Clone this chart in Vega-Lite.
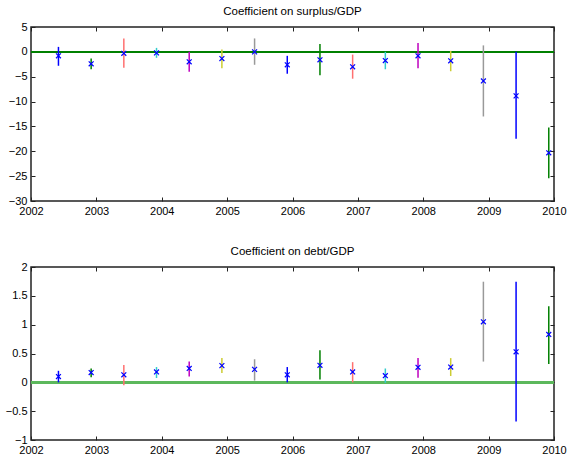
{
  "$schema": "https://vega.github.io/schema/vega-lite/v6.json",
  "autosize": {"type": "pad"},
  "padding": {"left": 4, "top": 4, "right": 1, "bottom": 0},
  "background": "white",
  "datasets": {
    "surplus": [
      {"t": 2002.42, "est": -0.8, "lo": -2.8, "hi": 1.0, "g": 1},
      {"t": 2002.92, "est": -2.4, "lo": -3.5, "hi": -1.35, "g": 2},
      {"t": 2003.42, "est": -0.3, "lo": -3.2, "hi": 2.7, "g": 3},
      {"t": 2003.92, "est": -0.2, "lo": -1.2, "hi": 0.8, "g": 4},
      {"t": 2004.42, "est": -2.0, "lo": -4.0, "hi": 0.0, "g": 5},
      {"t": 2004.92, "est": -1.35, "lo": -3.3, "hi": 0.45, "g": 6},
      {"t": 2005.42, "est": 0.0, "lo": -2.6, "hi": 2.7, "g": 7},
      {"t": 2005.92, "est": -2.6, "lo": -4.4, "hi": -0.8, "g": 1},
      {"t": 2006.42, "est": -1.6, "lo": -4.7, "hi": 1.6, "g": 2},
      {"t": 2006.92, "est": -3.0, "lo": -5.4, "hi": -0.55, "g": 3},
      {"t": 2007.42, "est": -1.75, "lo": -3.5, "hi": 0.0, "g": 4},
      {"t": 2007.92, "est": -0.8, "lo": -3.3, "hi": 1.8, "g": 5},
      {"t": 2008.42, "est": -1.8, "lo": -3.9, "hi": 0.2, "g": 6},
      {"t": 2008.92, "est": -5.85, "lo": -13.0, "hi": 1.3, "g": 7},
      {"t": 2009.42, "est": -8.85, "lo": -17.5, "hi": 0.0, "g": 1},
      {"t": 2009.92, "est": -20.3, "lo": -25.4, "hi": -15.2, "g": 2}
    ],
    "debt": [
      {"t": 2002.42, "est": 0.10, "lo": 0.0, "hi": 0.2, "g": 1},
      {"t": 2002.92, "est": 0.17, "lo": 0.09, "hi": 0.24, "g": 2},
      {"t": 2003.42, "est": 0.13, "lo": -0.05, "hi": 0.30, "g": 3},
      {"t": 2003.92, "est": 0.18, "lo": 0.075, "hi": 0.265, "g": 4},
      {"t": 2004.42, "est": 0.24, "lo": 0.10, "hi": 0.36, "g": 5},
      {"t": 2004.92, "est": 0.29, "lo": 0.16, "hi": 0.42, "g": 6},
      {"t": 2005.42, "est": 0.225, "lo": 0.03, "hi": 0.40, "g": 7},
      {"t": 2005.92, "est": 0.13, "lo": 0.0, "hi": 0.265, "g": 1},
      {"t": 2006.42, "est": 0.295, "lo": 0.05, "hi": 0.555, "g": 2},
      {"t": 2006.92, "est": 0.18, "lo": 0.0, "hi": 0.35, "g": 3},
      {"t": 2007.42, "est": 0.115, "lo": -0.01, "hi": 0.24, "g": 4},
      {"t": 2007.92, "est": 0.26, "lo": 0.08, "hi": 0.42, "g": 5},
      {"t": 2008.42, "est": 0.265, "lo": 0.11, "hi": 0.42, "g": 6},
      {"t": 2008.92, "est": 1.05, "lo": 0.36, "hi": 1.745, "g": 7},
      {"t": 2009.42, "est": 0.53, "lo": -0.68, "hi": 1.745, "g": 1},
      {"t": 2009.92, "est": 0.83, "lo": 0.32, "hi": 1.32, "g": 2}
    ]
  },
  "config": {
    "font": "Liberation Sans",
    "view": {"stroke": "#222222", "strokeWidth": 1.5},
    "axis": {
      "domain": false,
      "grid": false,
      "tickSize": -4,
      "tickColor": "#222222",
      "tickWidth": 1,
      "labelFontSize": 11,
      "labelColor": "#000000",
      "labelFlush": false,
      "labelOverlap": false,
      "labelBound": false,
      "title": null
    },
    "axisX": {"labelPadding": 8},
    "axisY": {"labelPadding": 8},
    "title": {"fontSize": 11.5, "fontWeight": "normal", "color": "#000000", "offset": 0, "anchor": "middle", "frame": "group"}
  },
  "bounds": "flush",
  "spacing": 66,
  "vconcat": [
    {
      "width": 523,
      "height": 174,
      "title": "Coefficient on surplus/GDP",
      "data": {"name": "surplus"},
      "resolve": {"axis": {"x": "independent", "y": "independent"}},
      "layer": [
        {
          "mark": {"type": "rule", "color": "#008000", "strokeWidth": 1},
          "encoding": {"y": {"datum": 0, "type": "quantitative", "scale": {"domain": [-30, 5], "nice": false, "zero": false}, "axis": null}}
        },
        {
          "mark": {"type": "rule", "strokeWidth": 1.5},
          "encoding": {
            "x": {"field": "t", "type": "quantitative", "scale": {"domain": [2002, 2010], "nice": false, "zero": false},
                  "axis": {"orient": "bottom", "values": [2002, 2003, 2004, 2005, 2006, 2007, 2008, 2009, 2010], "format": "d"}},
            "y": {"field": "lo", "type": "quantitative", "scale": {"domain": [-30, 5], "nice": false, "zero": false},
                  "axis": {"orient": "left", "values": [5, 0, -5, -10, -15, -20, -25, -30], "format": "d"}},
            "y2": {"field": "hi"},
            "color": {"field": "g", "type": "nominal", "legend": null,
                      "scale": {"domain": [1, 2, 3, 4, 5, 6, 7], "range": ["#0000ff", "#008000", "#ff7070", "#33cccc", "#bf00bf", "#cccc33", "#999999"]}}
          }
        },
        {
          "mark": {"type": "point", "shape": "M-1,-1L1,1M-1,1L1,-1", "filled": false, "color": "#0000ff", "strokeWidth": 1.2, "size": 24, "opacity": 1},
          "encoding": {
            "x": {"field": "t", "type": "quantitative",
                  "axis": {"orient": "top", "values": [2002, 2003, 2004, 2005, 2006, 2007, 2008, 2009, 2010], "labels": false}},
            "y": {"field": "est", "type": "quantitative",
                  "axis": {"orient": "right", "values": [5, 0, -5, -10, -15, -20, -25, -30], "labels": false}}
          }
        }
      ]
    },
    {
      "width": 523,
      "height": 173,
      "title": "Coefficient on debt/GDP",
      "data": {"name": "debt"},
      "resolve": {"axis": {"x": "independent", "y": "independent"}},
      "layer": [
        {
          "mark": {"type": "rule", "color": "#5cb85c", "strokeWidth": 2},
          "encoding": {"y": {"datum": 0, "type": "quantitative", "scale": {"domain": [-1, 2], "nice": false, "zero": false}, "axis": null}}
        },
        {
          "mark": {"type": "rule", "strokeWidth": 1.5},
          "encoding": {
            "x": {"field": "t", "type": "quantitative", "scale": {"domain": [2002, 2010], "nice": false, "zero": false},
                  "axis": {"orient": "bottom", "values": [2002, 2003, 2004, 2005, 2006, 2007, 2008, 2009, 2010], "format": "d"}},
            "y": {"field": "lo", "type": "quantitative", "scale": {"domain": [-1, 2], "nice": false, "zero": false},
                  "axis": {"orient": "left", "values": [2, 1.5, 1, 0.5, 0, -0.5, -1], "format": ".1~f"}},
            "y2": {"field": "hi"},
            "color": {"field": "g", "type": "nominal", "legend": null,
                      "scale": {"domain": [1, 2, 3, 4, 5, 6, 7], "range": ["#0000ff", "#008000", "#ff7070", "#33cccc", "#bf00bf", "#cccc33", "#999999"]}}
          }
        },
        {
          "mark": {"type": "point", "shape": "M-1,-1L1,1M-1,1L1,-1", "filled": false, "color": "#0000ff", "strokeWidth": 1.2, "size": 24, "opacity": 1},
          "encoding": {
            "x": {"field": "t", "type": "quantitative",
                  "axis": {"orient": "top", "values": [2002, 2003, 2004, 2005, 2006, 2007, 2008, 2009, 2010], "labels": false}},
            "y": {"field": "est", "type": "quantitative",
                  "axis": {"orient": "right", "values": [2, 1.5, 1, 0.5, 0, -0.5, -1], "labels": false}}
          }
        }
      ]
    }
  ]
}
